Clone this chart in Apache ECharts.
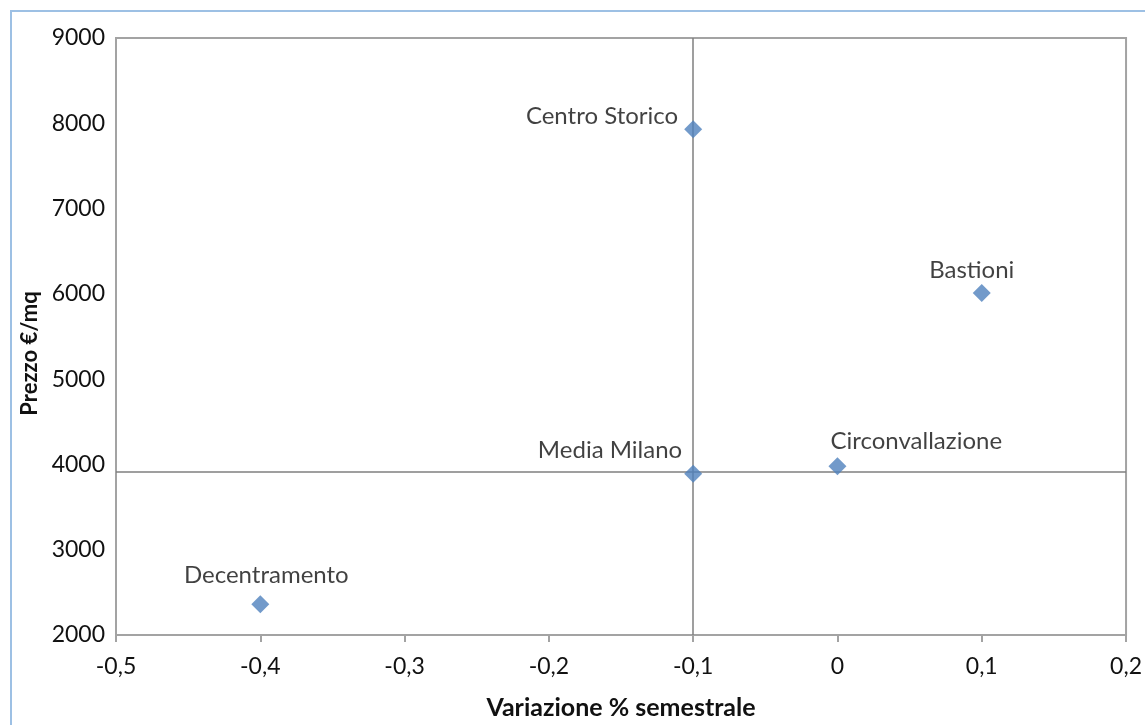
<!DOCTYPE html>
<html>
<head>
<meta charset="utf-8">
<script src="https://cdn.jsdelivr.net/npm/echarts@6/dist/echarts.min.js"></script>
<style>
html,body{margin:0;padding:0;background:#fff;}
#chart{width:1145px;height:725px;}
</style>
</head>
<body>
<div id="chart"></div>
<script>
const names = ["Centro Storico", "Bastioni", "Circonvallazione", "Media Milano", "Decentramento"];
const variazione = [-0.1, 0.1, 0.0, -0.1, -0.4];
const prezzo = [7930, 6010, 3980, 3890, 2360];
const refX = -0.1;
const refY = 3910;
const xTicks = { min: -0.5, max: 0.2, interval: 0.1 };
const yTicks = { min: 2000, max: 9000, interval: 1000 };

// label placements (layout only), relative to symbol box
const labelLayout = [
  { position: [-6, -4], align: 'right' },
  { position: [-1, -14], align: 'center' },
  { position: [2, -16], align: 'left' },
  { position: [-2, -15], align: 'right' },
  { position: [15, -20], align: 'center' }
];

const FONT = 'Lato, "Open Sans", sans-serif';
const chart = echarts.init(document.getElementById('chart'));

const points = names.map((n, i) => ({
  name: n,
  value: [variazione[i], prezzo[i]],
  label: {
    show: true,
    formatter: n,
    position: labelLayout[i].position,
    align: labelLayout[i].align,
    verticalAlign: 'middle',
    color: '#111',
    fontSize: 24,
    fontFamily: FONT
  }
}));

chart.setOption({
  backgroundColor: '#fff',
  animation: false,
  graphic: [{
    type: 'rect',
    shape: { x: 11, y: 11, width: 1300, height: 900 },
    style: { fill: 'none', stroke: '#9dc0e4', lineWidth: 2 },
    silent: true,
    z: -1
  }],
  grid: {
    left: 116, top: 38, right: 18, bottom: 88,
    show: true, borderColor: '#a3a3a3', borderWidth: 2, backgroundColor: 'transparent'
  },
  xAxis: {
    type: 'value',
    min: xTicks.min, max: xTicks.max, interval: xTicks.interval,
    name: 'Variazione % semestrale',
    nameLocation: 'middle',
    nameGap: 60,
    nameTextStyle: { fontSize: 25, fontWeight: 'bold', color: '#111', fontFamily: FONT },
    axisLine: { show: true, onZero: false, lineStyle: { color: '#a3a3a3', width: 2 } },
    axisTick: { show: true, length: 7, lineStyle: { color: '#a3a3a3', width: 2 } },
    splitLine: { show: false },
    axisLabel: {
      margin: 20, fontSize: 23, color: '#111', fontFamily: FONT,
      formatter: v => String(Math.round(v * 10) / 10).replace('.', ',')
    }
  },
  yAxis: {
    type: 'value',
    min: yTicks.min, max: yTicks.max, interval: yTicks.interval,
    name: 'Prezzo €/mq',
    nameLocation: 'middle',
    nameGap: 70,
    nameTextStyle: { fontSize: 22, fontWeight: 'bold', color: '#111', fontFamily: FONT, padding: [0, 34, 0, 0] },
    axisLine: { show: true, onZero: false, lineStyle: { color: '#a3a3a3', width: 2 } },
    axisTick: { show: false },
    splitLine: { show: false },
    axisLabel: { margin: 11, fontSize: 23, color: '#111', fontFamily: FONT, formatter: v => String(v) }
  },
  series: [{
    type: 'scatter',
    symbol: 'diamond',
    symbolSize: 18,
    itemStyle: { color: '#4f81bd' },
    data: points,
    z: 3,
    markLine: {
      silent: true,
      symbol: 'none',
      label: { show: false },
      lineStyle: { color: '#7f7f7f', width: 1.5, type: 'solid' },
      data: [{ xAxis: refX }, { yAxis: refY }],
      z: 1
    }
  }]
});
</script>
</body>
</html>
